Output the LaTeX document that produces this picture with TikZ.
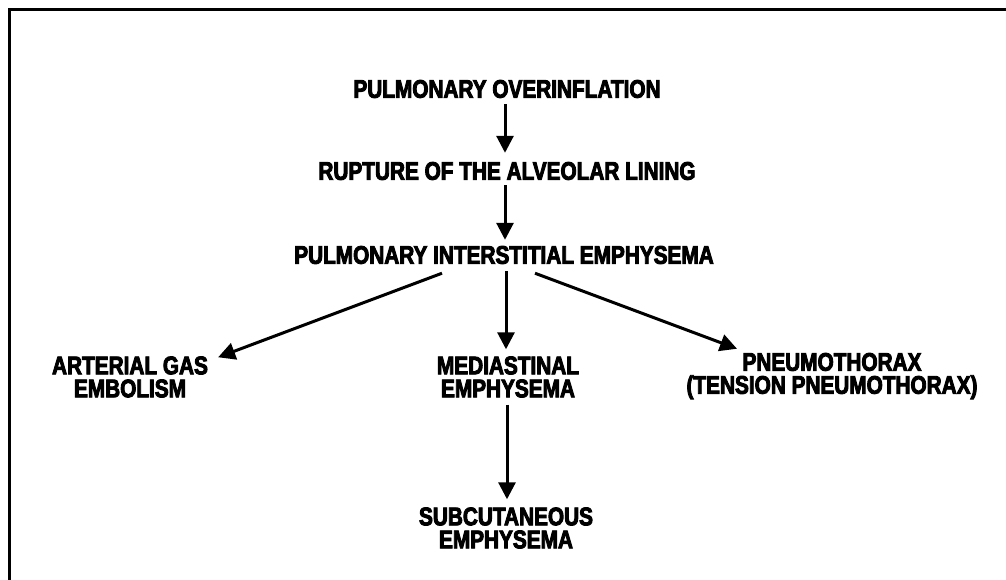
\documentclass[tikz,border=0pt]{standalone}
\usepackage{fontspec}
\setmainfont{Liberation Sans}[FakeStretch=0.815, BoldFeatures={FakeBold=3.5}]
\usetikzlibrary{arrows.meta,calc}
\begin{document}
\begin{tikzpicture}[x=1pt,y=-1pt,
  lbl/.style={inner sep=0pt, font=\fontsize{25.5}{23}\selectfont\bfseries, align=center},
  arr/.style={line width=3pt, -{Triangle[length=17pt,width=17pt]}},
  frame/.style={line width=3pt}]
\useasboundingbox (0,0) rectangle (1006,579);
\draw[frame] (9.5,580) -- (9.5,9.5) -- (1007,9.5);
\node[lbl] (n1) at (507,89) {PULMONARY OVERINFLATION};
\node[lbl] (n2) at (507,171) {RUPTURE OF THE ALVEOLAR LINING};
\node[lbl] (n3) at (504,255) {PULMONARY INTERSTITIAL EMPHYSEMA};
\node[lbl] (ag) at (130,377) {ARTERIAL GAS\\EMBOLISM};
\node[lbl] (me) at (508,377) {MEDIASTINAL\\EMPHYSEMA};
\node[lbl] (pn) at (832,376) {PNEUMOTHORAX\\(TENSION PNEUMOTHORAX)};
\node[lbl] (sc) at (506,528) {SUBCUTANEOUS\\EMPHYSEMA};
\draw[arr] ($(n1.south -| 505,0)+(0,6)$) -- ($(n2.north -| 505,0)+(0,-9)$);
\draw[arr] ($(n2.south -| 505,0)+(0,5)$) -- ($(n3.north -| 505,0)+(0,-6)$);
\draw[arr] ($(n3.south -| 506,0)+(0,7)$) -- ($(me.north -| 506,0)+(0,-7)$);
\draw[arr] ($(n3.south)+(-62,9)$) -- ($(ag.north east)+(10,1)$);
\draw[arr] ($(n3.south)+(31,9)$) -- ($(pn.north -| 737,0)+(0,-4)$);
\draw[arr] ($(me.south -| 507,0)+(0,7)$) -- ($(sc.north -| 507,0)+(0,-8)$);
\end{tikzpicture}
\end{document}
